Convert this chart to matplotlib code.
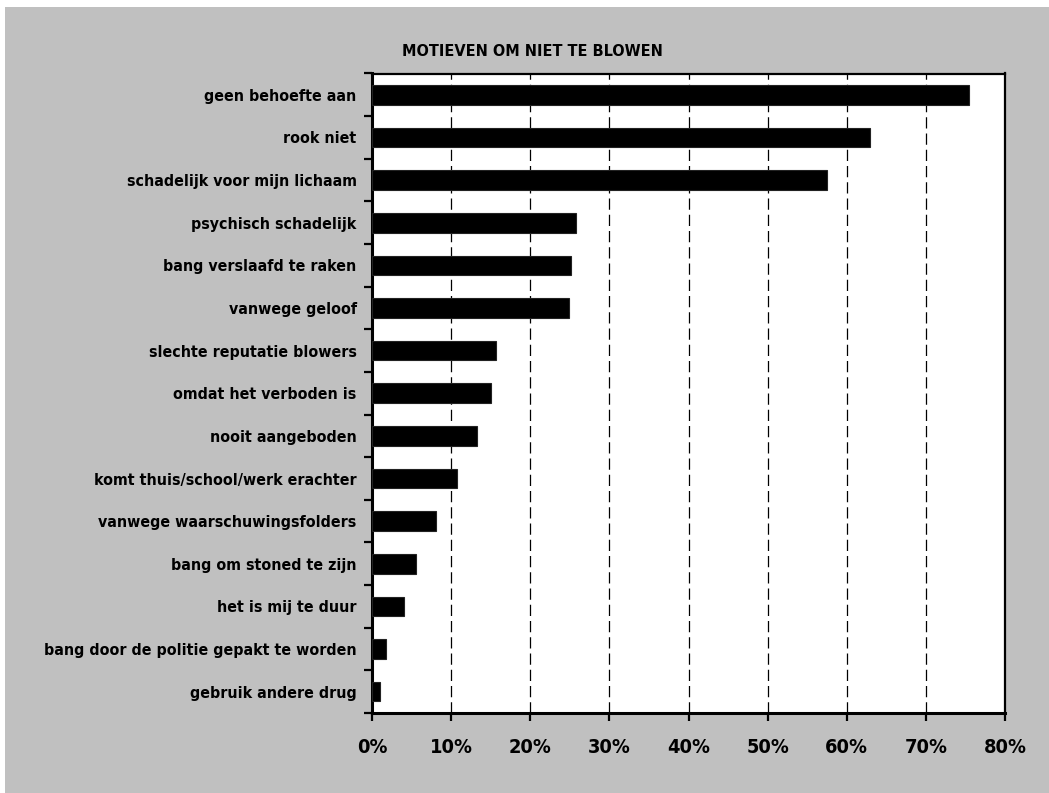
import numpy as np
import matplotlib
matplotlib.use("Agg")
import matplotlib.pyplot as plt
from matplotlib.patches import Rectangle
from matplotlib.ticker import FixedLocator, PercentFormatter

labels = [
    "geen behoefte aan",
    "rook niet",
    "schadelijk voor mijn lichaam",
    "psychisch schadelijk",
    "bang verslaafd te raken",
    "vanwege geloof",
    "slechte reputatie blowers",
    "omdat het verboden is",
    "nooit aangeboden",
    "komt thuis/school/werk erachter",
    "vanwege waarschuwingsfolders",
    "bang om stoned te zijn",
    "het is mij te duur",
    "bang door de politie gepakt te worden",
    "gebruik andere drug",
]
values = [75.5, 62.9, 57.5, 25.8, 25.2, 24.9, 15.7, 15.0, 13.3, 10.7, 8.1, 5.6, 4.0, 1.8, 1.0]
title = "MOTIEVEN OM NIET TE BLOWEN"

plt.rcParams['font.family'] = ['DejaVu Sans']
plt.rcParams['font.stretch'] = 'condensed'
plt.rcParams['font.weight'] = 'bold'

W, H = 1049, 793
fig = plt.figure(figsize=(W / 100, H / 100), dpi=100)
fig.patch.set_facecolor("white")
# grey panel behind everything
fig.patches.append(Rectangle((5 / W, 0), 1 - 5 / W, 1 - 7 / H, transform=fig.transFigure,
                             facecolor="#c0c0c0", edgecolor="none", zorder=-5))

ax = fig.add_axes([372 / W, (H - 713) / H, 633 / W, 639.5 / H])
ax.set_facecolor("white")

# pick a label size so the longest label is about as wide as in the reference (~312 px)
renderer = fig.canvas.get_renderer()
probe = fig.text(0, 0, max(labels, key=len), fontsize=12)
w = probe.get_window_extent(renderer).width
probe.remove()
lsize = min(13, 12 * 310 / w)

y = np.arange(len(labels))
ax.barh(y, values, height=0.46, color="black", edgecolor="#222222", linewidth=0.8, zorder=3)

ax.set_xlim(0, 80)
ax.set_ylim(len(labels) - 0.5, -0.5)

ax.xaxis.set_major_locator(FixedLocator(np.arange(0, 81, 10)))
ax.xaxis.set_major_formatter(PercentFormatter(decimals=0))
ax.grid(axis="x", color="black", linestyle=(0, (9, 4)), linewidth=0.9, zorder=1)
ax.set_axisbelow(True)

ax.set_yticks(y)
ax.set_yticklabels(labels)
ax.yaxis.set_minor_locator(FixedLocator(np.arange(-0.5, len(labels), 1.0)))
ax.tick_params(axis="y", which="major", length=0, pad=11, labelsize=lsize)
ax.tick_params(axis="y", which="minor", length=6, width=1.6, direction="out")
ax.tick_params(axis="x", which="major", length=6, width=1.6, direction="out", pad=12, labelsize=lsize * 1.25)

for side in ["left", "bottom"]:
    ax.spines[side].set_linewidth(2.2)
for side in ["top", "right"]:
    ax.spines[side].set_linewidth(1.6)

fig.text(532 / W, 1 - 52 / H, title, ha="center", va="center", fontsize=lsize * 1.02, fontweight="bold")

fig.savefig("out.png", dpi=100, facecolor=fig.get_facecolor())
